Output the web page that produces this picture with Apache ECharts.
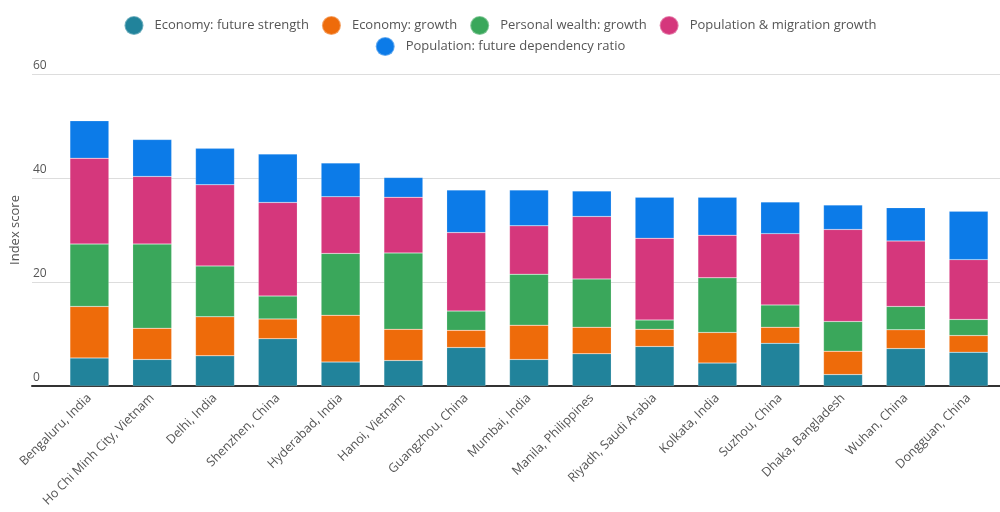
<!DOCTYPE html>
<html>
<head>
<meta charset="utf-8">
<script src="https://cdn.jsdelivr.net/npm/echarts@6/dist/echarts.min.js"></script>
<style>
  html, body { margin: 0; padding: 0; background: #fff; }
  #chart { width: 1000px; height: 512px; }
</style>
</head>
<body>
<div id="chart"></div>
<script>
const cities = [
  'Bengaluru, India', 'Ho Chi Minh City, Vietnam', 'Delhi, India', 'Shenzhen, China',
  'Hyderabad, India', 'Hanoi, Vietnam', 'Guangzhou, China', 'Mumbai, India',
  'Manila, Philippines', 'Riyadh, Saudi Arabia', 'Kolkata, India', 'Suzhou, China',
  'Dhaka, Bangladesh', 'Wuhan, China', 'Dongguan, China'
]
const econFuture = [5.4, 5.1, 5.8, 9.1, 4.6, 4.9, 7.4, 5.1, 6.2, 7.6, 4.4, 8.2, 2.2, 7.2, 6.5]
const econGrowth = [9.9, 6.0, 7.5, 3.8, 9.0, 6.0, 3.3, 6.6, 5.1, 3.3, 5.9, 3.1, 4.5, 3.6, 3.2]
const wealthGrowth = [12.0, 16.2, 9.8, 4.4, 11.9, 14.7, 3.7, 9.8, 9.3, 1.8, 10.5, 4.3, 5.7, 4.5, 3.1]
const popGrowth = [16.5, 13.0, 15.6, 18.0, 10.9, 10.7, 15.1, 9.3, 12.0, 15.7, 8.2, 13.7, 17.7, 12.6, 11.5]
const dependency = [7.2, 7.1, 7.0, 9.3, 6.5, 3.8, 8.2, 6.9, 4.9, 7.9, 7.3, 6.1, 4.7, 6.4, 9.3]
const yTicks = [0, 20, 40, 60]

const seriesDefs = [
  { name: 'Economy: future strength', data: econFuture, color: '#21839b' },
  { name: 'Economy: growth', data: econGrowth, color: '#ee6b0a' },
  { name: 'Personal wealth: growth', data: wealthGrowth, color: '#3aa75b' },
  { name: 'Population & migration growth', data: popGrowth, color: '#d5377c' },
  { name: 'Population: future dependency ratio', data: dependency, color: '#0c7be8' }
]

const font = 'Open Sans, sans-serif'
const legendBase = {
  icon: 'circle',
  itemWidth: 19,
  itemHeight: 19,
  itemGap: 12,
  left: 'center',
  textStyle: { color: '#555', fontSize: 13, fontFamily: font, padding: [0, 0, 0, 6] }
}

const chart = echarts.init(document.getElementById('chart'), null, { renderer: 'canvas' })
chart.setOption({
  animation: false,
  legend: [
    Object.assign({}, legendBase, { top: 10, data: seriesDefs.slice(0, 4).map(s => s.name) }),
    Object.assign({}, legendBase, { top: 31, data: [seriesDefs[4].name] })
  ],
  grid: [
    { left: 58, width: 948, top: 74, bottom: 126 },
    { left: 32, right: 0, top: 74, bottom: 126 }
  ],
  xAxis: [
    {
      type: 'category',
      gridIndex: 0,
      data: cities,
      axisLine: { show: false },
      axisTick: { show: false },
      axisLabel: {
        rotate: 45,
        interval: 0,
        margin: 10,
        color: '#555',
        fontSize: 12.5,
        fontFamily: font
      }
    },
    {
      type: 'value',
      gridIndex: 1,
      min: 0,
      max: 1,
      axisLine: { show: true, lineStyle: { color: '#333', width: 2 } },
      axisTick: { show: false },
      axisLabel: { show: false },
      splitLine: { show: false }
    }
  ],
  yAxis: [
    {
      type: 'value',
      gridIndex: 0,
      min: 0,
      max: 60,
      interval: 20,
      axisLine: { show: false },
      axisTick: { show: false },
      axisLabel: { show: false },
      splitLine: { show: false }
    },
    {
      type: 'value',
      gridIndex: 1,
      min: yTicks[0],
      max: yTicks[yTicks.length - 1],
      interval: 20,
      name: 'Index score',
      nameLocation: 'middle',
      nameGap: 8,
      nameTextStyle: { color: '#555', fontSize: 13, fontFamily: font },
      axisLine: { show: false },
      axisTick: { show: false },
      axisLabel: {
        inside: true,
        margin: 1,
        verticalAlign: 'bottom',
        color: '#555',
        fontSize: 12,
        fontFamily: font,
        padding: [0, 0, 2, 0]
      },
      splitLine: { lineStyle: { color: '#dddddd', width: 1 } }
    }
  ],
  series: seriesDefs.map(s => ({
    name: s.name,
    type: 'bar',
    stack: 'total',
    xAxisIndex: 0,
    yAxisIndex: 0,
    barWidth: '62%',
    z: 3,
    itemStyle: { color: s.color, borderColor: 'rgba(255,255,255,0.35)', borderWidth: 0.5 },
    data: s.data
  }))
})
</script>
</body>
</html>
